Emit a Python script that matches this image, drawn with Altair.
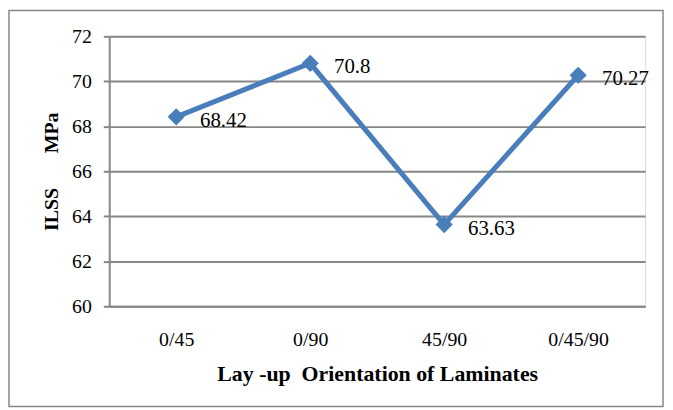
import altair as alt
import pandas as pd

categories = ["0/45", "0/90", "45/90", "0/45/90"]
ilss = [68.42, 70.8, 63.63, 70.27]
labels = ["68.42", "70.8", "63.63", "70.27"]

df = pd.DataFrame({"layup": categories, "ilss": ilss, "label": labels})

FONT = "Liberation Serif"
GRAY = "#878787"
BLUE = "#4a7ebb"

x = alt.X("layup:N", sort=categories,
          scale=alt.Scale(paddingInner=0, paddingOuter=0.5),
          axis=alt.Axis(title="Lay -up\u00a0\u00a0Orientation of Laminates", labelAngle=0,
                        ticks=False, domainColor=GRAY, domainWidth=2,
                        labelFont=FONT, labelFontSize=20, labelColor="black", labelPadding=24,
                        titleFont=FONT, titleFontSize=22, titleFontWeight="bold",
                        titleColor="black", titlePadding=14))
y = alt.Y("ilss:Q", scale=alt.Scale(domain=[60, 72], nice=False, zero=False),
          axis=alt.Axis(title="ILSS\u00a0\u00a0\u00a0\u00a0\u00a0\u00a0\u00a0MPa", values=[60, 62, 64, 66, 68, 70, 72],
                        tickSize=6, tickColor=GRAY, tickWidth=2, domainColor=GRAY, domainWidth=2,
                        gridColor=GRAY, gridWidth=2, grid=True,
                        labelFont=FONT, labelFontSize=20, labelColor="black", labelPadding=12,
                        titleFont=FONT, titleFontSize=20, titleFontWeight="bold",
                        titleColor="black", titlePadding=10))

base = alt.Chart(df)

line = base.mark_line(color=BLUE, strokeWidth=5).encode(x=x, y=y)
pts = base.mark_point(shape="diamond", filled=True, color=BLUE, size=300, opacity=1).encode(x=x, y=y)
txt = base.mark_text(align="left", baseline="alphabetic", dx=24, dy=10, font=FONT, fontSize=21,
                     color="black").encode(x=x, y=y, text="label:N")

border = alt.Chart(pd.DataFrame({"a": [0]})).mark_rect(
    fill=None, stroke=GRAY, strokeWidth=1.5, clip=False).encode(
    x=alt.value(-101), x2=alt.value(558), y=alt.value(-26), y2=alt.value(373))

chart = alt.layer(border, line, pts, txt).properties(
    width=540, height=272,
    autosize=alt.AutoSizeParams(type="none"),
    padding={"left": 102, "top": 27, "right": 20, "bottom": 103},
).configure_view(stroke=None).configure(background="white")

chart.save("out.html", embed_options={"renderer": "svg", "actions": False})
